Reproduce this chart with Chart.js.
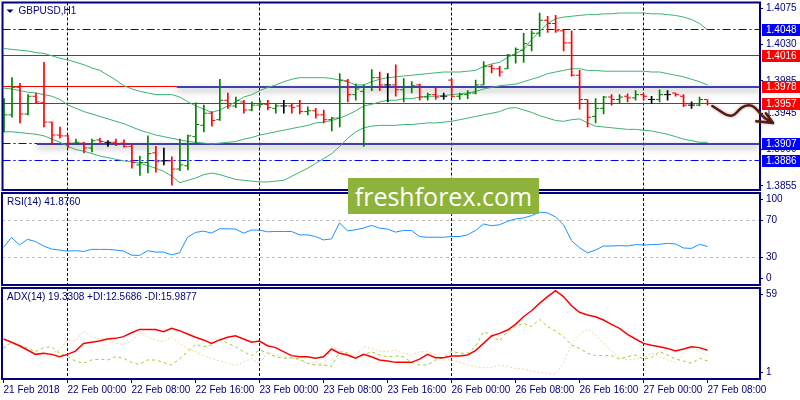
<!DOCTYPE html>
<html>
<head>
<meta charset="utf-8">
<script src="https://cdn.jsdelivr.net/npm/chart.js@4.4.1/dist/chart.umd.min.js"></script>
<style>
html, body { margin: 0; padding: 0; background: #fff; }
#wrap { position: relative; width: 800px; height: 400px; overflow: hidden; }
#wrap canvas { position: absolute; left: 0; top: 0; }
#logo { position: absolute; left: 348px; top: 178px; width: 191px; height: 36px; background: #8db33a; color: #fff;
        font: 25px "Open Sans", sans-serif; line-height: 36px; text-align: center; z-index: 5; }
</style>
</head>
<body>
<div id="wrap">
  <canvas id="main" width="800" height="400"></canvas>
  <canvas id="rsi" width="800" height="400"></canvas>
  <canvas id="adx" width="800" height="400"></canvas>
  <div id="logo">freshforex.com</div>
</div>
<script>
// GBPUSD H1, 21 Feb 16:00 .. 27 Feb 08:00 (89 bars)
const opens = [1.3933,1.3943,1.3977,1.3944,1.3966,1.3958,1.3934,1.3918,1.3917,1.3908,
  1.3908,1.3902,1.3912,1.3909,1.3909,1.3908,1.3904,1.3881,1.3884,1.3896,
  1.3886,1.3886,1.3876,1.3880,1.3916,1.3930,1.3945,1.3937,1.3961,1.3954,
  1.3959,1.3949,1.3955,1.3956,1.3951,1.3954,1.3954,1.3954,1.3947,1.3948,
  1.3943,1.3937,1.3939,1.3985,1.3968,1.3972,1.3977,1.3989,1.3980,1.3980,
  1.3974,1.3977,1.3980,1.3965,1.3968,1.3966,1.3986,1.3966,1.3968,1.3970,
  1.3980,1.4003,1.4000,1.4000,1.4017,1.4023,1.4029,1.4044,1.4060,1.4056,
  1.4047,1.4032,1.3992,1.3962,1.3941,1.3951,1.3965,1.3962,1.3966,1.3964,
  1.3968,1.3962,1.3962,1.3968,1.3970,1.3966,1.3955,1.3955,1.3962];
const highs = [1.3963,1.3989,1.3982,1.3968,1.3970,1.4008,1.3934,1.3928,1.3918,1.3913,
  1.3909,1.3913,1.3914,1.3911,1.3913,1.3912,1.3907,1.3892,1.3917,1.3904,
  1.3902,1.3891,1.3913,1.3918,1.3958,1.3955,1.3947,1.3987,1.3970,1.3965,
  1.3961,1.3959,1.3961,1.3961,1.3956,1.3961,1.3957,1.3961,1.3953,1.3951,
  1.3949,1.3940,1.3994,1.3987,1.3981,1.3980,1.3999,1.3996,1.3994,1.4005,
  1.3988,1.3984,1.3981,1.3970,1.3976,1.3970,1.3987,1.3970,1.3973,1.3986,
  1.4009,1.4005,1.4003,1.4018,1.4026,1.4044,1.4047,1.4069,1.4065,1.4066,
  1.4048,1.4047,1.3998,1.3962,1.3963,1.3966,1.3968,1.3968,1.3969,1.3973,
  1.3969,1.3966,1.3974,1.3973,1.3970,1.3968,1.3959,1.3965,1.3962];
const lows = [1.3922,1.3940,1.3933,1.3943,1.3957,1.3928,1.3906,1.3914,1.3902,1.3907,
  1.3896,1.3897,1.3909,1.3904,1.3905,1.3903,1.3877,1.3868,1.3871,1.3872,
  1.3881,1.3856,1.3874,1.3875,1.3908,1.3922,1.3929,1.3936,1.3951,1.3952,
  1.3945,1.3948,1.3952,1.3949,1.3945,1.3945,1.3945,1.3944,1.3943,1.3939,
  1.3933,1.3923,1.3928,1.3959,1.3961,1.3904,1.3973,1.3973,1.3959,1.3966,
  1.3959,1.3970,1.3961,1.3961,1.3962,1.3962,1.3965,1.3962,1.3963,1.3969,
  1.3980,1.3995,1.3991,1.4000,1.4007,1.4008,1.4022,1.4040,1.4045,1.4045,
  1.4022,1.3991,1.3950,1.3928,1.3933,1.3944,1.3955,1.3957,1.3959,1.3961,
  1.3961,1.3957,1.3959,1.3961,1.3966,1.3953,1.3951,1.3954,1.3955];
const closes = [1.3943,1.3977,1.3944,1.3966,1.3959,1.3934,1.3918,1.3917,1.3908,1.3909,
  1.3902,1.3911,1.3910,1.3909,1.3907,1.3904,1.3884,1.3884,1.3895,1.3885,
  1.3886,1.3876,1.3881,1.3917,1.3931,1.3945,1.3936,1.3961,1.3954,1.3961,
  1.3949,1.3955,1.3956,1.3952,1.3954,1.3954,1.3952,1.3947,1.3948,1.3943,
  1.3937,1.3939,1.3986,1.3968,1.3975,1.3977,1.3989,1.3980,1.3980,1.3974,
  1.3977,1.3979,1.3965,1.3968,1.3965,1.3966,1.3966,1.3968,1.3970,1.3980,
  1.4003,1.4000,1.3996,1.4017,1.4024,1.4031,1.4044,1.4060,1.4056,1.4047,
  1.4032,1.3992,1.3962,1.3940,1.3951,1.3965,1.3962,1.3965,1.3964,1.3968,
  1.3966,1.3962,1.3968,1.3968,1.3968,1.3955,1.3955,1.3962,1.3957];

// Bollinger Bands (20)
const bbUpper = [1.4025,1.4024,1.4023,1.4022,1.4020,1.4019,1.4016,1.4013,1.4011,1.4008,
  1.4005,1.4001,1.3998,1.3992,1.3986,1.3979,1.3975,1.3972,1.3970,1.3968,
  1.3968,1.3968,1.3965,1.3959,1.3954,1.3950,1.3946,1.3949,1.3954,1.3959,
  1.3965,1.3968,1.3973,1.3977,1.3980,1.3984,1.3987,1.3989,1.3989,1.3989,
  1.3989,1.3988,1.3986,1.3984,1.3980,1.3980,1.3984,1.3987,1.3989,1.3990,
  1.3991,1.3992,1.3993,1.3994,1.3995,1.3996,1.3996,1.3996,1.3997,1.3998,
  1.4003,1.4006,1.4008,1.4014,1.4019,1.4024,1.4036,1.4046,1.4056,1.4062,
  1.4064,1.4065,1.4066,1.4067,1.4067,1.4068,1.4068,1.4069,1.4069,1.4069,
  1.4069,1.4068,1.4068,1.4067,1.4066,1.4064,1.4061,1.4056,1.4048];
const bbMiddle = [1.3976,1.3975,1.3973,1.3971,1.3970,1.3968,1.3966,1.3962,1.3955,1.3951,
  1.3947,1.3944,1.3941,1.3938,1.3935,1.3932,1.3928,1.3924,1.3921,1.3918,
  1.3916,1.3914,1.3912,1.3910,1.3909,1.3908,1.3907,1.3908,1.3909,1.3910,
  1.3913,1.3915,1.3918,1.3920,1.3922,1.3924,1.3926,1.3928,1.3930,1.3933,
  1.3934,1.3936,1.3939,1.3943,1.3948,1.3954,1.3956,1.3959,1.3961,1.3961,
  1.3963,1.3963,1.3965,1.3966,1.3966,1.3967,1.3968,1.3969,1.3970,1.3972,
  1.3975,1.3977,1.3979,1.3980,1.3981,1.3984,1.3987,1.3990,1.3994,1.3996,
  1.3998,1.4000,1.4000,1.3998,1.3998,1.3997,1.3997,1.3997,1.3997,1.3997,
  1.3997,1.3996,1.3996,1.3994,1.3992,1.3990,1.3987,1.3984,1.3980];
const bbLower = [1.3922,1.3922,1.3921,1.3920,1.3919,1.3917,1.3913,1.3909,1.3904,1.3900,
  1.3898,1.3895,1.3892,1.3890,1.3888,1.3886,1.3885,1.3883,1.3880,1.3877,
  1.3873,1.3867,1.3859,1.3862,1.3865,1.3869,1.3871,1.3869,1.3866,1.3863,
  1.3862,1.3861,1.3860,1.3860,1.3861,1.3862,1.3867,1.3872,1.3877,1.3883,
  1.3889,1.3895,1.3904,1.3914,1.3922,1.3927,1.3929,1.3930,1.3930,1.3930,
  1.3931,1.3931,1.3932,1.3933,1.3933,1.3934,1.3935,1.3937,1.3939,1.3941,
  1.3943,1.3945,1.3947,1.3951,1.3952,1.3949,1.3946,1.3942,1.3939,1.3936,
  1.3935,1.3937,1.3938,1.3933,1.3929,1.3928,1.3927,1.3926,1.3925,1.3925,
  1.3924,1.3923,1.3921,1.3919,1.3916,1.3913,1.3911,1.3909,1.3909];

const rsi14 = [40.9,51.6,43.5,49.7,47.2,42.4,39.1,38.0,36.9,37.3,
  36.5,38.7,38.7,38.7,38.0,36.9,32.5,32.1,37.3,35.8,
  35.8,32.8,35.0,51.9,57.1,58.6,56.4,61.1,61.1,60.8,
  56.4,59.7,59.7,57.8,58.2,58.2,58.2,54.5,54.5,52.7,
  49.0,50.1,67.4,58.9,60.0,61.9,64.8,61.9,60.8,57.5,
  59.3,59.3,52.7,51.9,51.9,51.9,52.7,52.7,54.5,59.3,
  66.3,64.4,65.5,69.2,71.8,72.9,75.4,79.1,78.4,74.0,
  65.5,48.3,40.6,35.0,38.0,42.4,42.4,42.8,42.4,43.9,
  43.5,43.9,44.2,45.3,44.6,40.2,39.8,44.2,41.9];

const adx14 = [26.5,24.4,22.2,19.5,16.7,17.4,16.7,15.2,16.7,18.8,
  23.7,24.4,25.2,26.5,26.9,28.0,30.5,32.6,32.6,32.6,
  31.2,33.3,31.8,29.7,27.6,25.9,23.7,25.9,27.6,28.6,
  26.5,24.4,25.2,22.2,21.0,18.4,15.9,15.2,15.2,14.2,
  15.2,20.1,17.4,16.3,14.2,16.7,15.2,13.1,12.5,11.6,
  11.6,11.6,13.7,16.7,14.6,14.6,15.7,15.7,16.3,19.1,
  23.7,28.4,30.1,32.2,35.8,40.7,44.5,49.2,53.5,57.3,
  53.5,47.7,43.5,41.8,40.7,38.6,35.8,33.3,29.5,26.5,
  23.7,22.5,21.6,20.5,18.8,20.1,21.6,21.0,19.3];
const plusDI = [20.5,24.4,22.7,20.5,18.4,21.0,21.6,17.4,15.2,12.5,
  11.0,13.1,13.7,13.1,15.2,14.2,11.6,10.3,13.1,13.1,
  11.6,9.9,13.7,18.4,23.1,21.6,22.7,26.5,23.7,21.6,
  18.4,15.9,19.5,17.4,15.2,14.2,14.6,13.7,11.0,9.9,
  9.9,8.9,18.4,17.4,14.2,16.3,18.4,16.3,15.2,15.7,
  15.2,11.6,9.9,9.9,13.1,14.6,18.8,17.4,17.4,21.6,
  31.2,29.0,25.2,31.2,34.4,36.5,34.4,39.0,34.4,31.6,
  28.0,22.7,20.5,17.4,15.9,15.9,15.9,13.7,15.2,16.3,
  13.7,14.6,18.4,16.3,13.7,12.5,11.0,14.2,12.6];
const minusDI = [21.6,24.4,21.6,19.5,17.4,15.2,17.4,19.5,25.9,25.2,
  31.8,28.0,26.5,26.9,23.7,23.1,25.2,31.2,28.0,25.9,
  24.8,28.0,23.7,20.5,18.4,15.9,14.2,12.5,11.0,9.5,
  11.6,14.2,10.3,18.4,16.3,15.2,14.2,13.1,11.0,12.1,
  9.9,21.6,19.5,17.4,15.2,21.6,20.5,18.8,18.4,19.5,
  17.4,16.3,18.4,18.4,16.3,13.1,13.1,11.6,9.9,8.9,
  8.2,8.2,9.9,8.9,7.8,7.4,6.1,5.3,4.6,4.0,
  11.0,23.7,29.5,32.7,29.5,23.7,18.8,14.6,13.1,13.7,
  14.6,17.4,15.2,13.1,11.6,17.4,21.0,18.4,16.0];

// axes
const xTickIdx = [0, 8, 16, 24, 32, 40, 48, 56, 64, 72, 80, 88];
const xTickText = ['21 Feb 2018', '22 Feb 00:00', '22 Feb 08:00', '22 Feb 16:00', '23 Feb 00:00', '23 Feb 08:00',
  '23 Feb 16:00', '26 Feb 00:00', '26 Feb 08:00', '26 Feb 16:00', '27 Feb 00:00', '27 Feb 08:00'];
const dayStarts = [8, 32, 56, 80];
const priceTicks = [1.4075, 1.4030, 1.3985, 1.3945, 1.3900, 1.3855];
const rsiTickPos = [93, 70, 30, 7];
const rsiTickText = ['100', '70', '30', '0'];
const rsiLevels = [70, 30];
const adxTickPos = [55, 5.3];
const adxTickText = ['59', '1'];

// objects drawn on the price chart
const blueLevels = [1.4048, 1.3907, 1.3886];
const redLevels = [1.4016, 1.3978, 1.3957];
const trendLevels = [1.3978, 1.3907];
const trendFrom = [21.6, 4.1];
const tagPrices = [1.4048, 1.4016, 1.3978, 1.3957, 1.3907, 1.3886];
const tagColors = ['#0000ff', '#ff0000', '#ff0000', '#ff0000', '#0000ff', '#0000ff'];
const arrowIdx = [88.6, 89.4, 90.3, 91.2, 91.9, 92.7, 93.6, 94.3, 95.2, 96.2];
const arrowPrice = [1.3954, 1.3949, 1.3943, 1.3941, 1.3949, 1.3955, 1.3955, 1.3948, 1.3938, 1.3933];
const arrowHeadIdx = [94.1, 95.3];
const arrowHeadPrice = [1.3935, 1.3945];

const NAVY = '#000080';
const FONT = { family: '"Liberation Sans", Arial, sans-serif', size: 10 };
const FONT_CSS = '10px "Liberation Sans", Arial, sans-serif';
const X_MIN = -0.1875, X_MAX = 94.5625;

const barColor = i => closes[i] > opens[i] ? '#008000' : (closes[i] < opens[i] ? '#ff0000' : '#000000');
const pts = arr => arr.map((v, i) => ({ x: i, y: v }));

function xAxis(show) {
    return {
        type: 'linear', min: X_MIN, max: X_MAX, display: show, offset: false, bounds: 'data',
        afterFit: s => { if (show) s.height = 21; s.paddingLeft = 0; s.paddingRight = 0; },
        afterBuildTicks: s => { s.ticks = xTickIdx.map(v => ({ value: v })); },
        ticks: { callback: v => xTickText[xTickIdx.indexOf(v)], align: 'start', color: NAVY, font: FONT,
                 maxRotation: 0, autoSkip: false, padding: 1 },
        grid: { drawOnChartArea: false, tickLength: 4, tickColor: NAVY },
        border: { display: false }
    };
}

function yAxis(min, max, tickPos, tickText) {
    return {
        type: 'linear', position: 'right', min: min, max: max, bounds: 'data',
        afterFit: s => { s.width = 40; s.paddingTop = 0; s.paddingBottom = 0; },
        afterBuildTicks: s => { s.ticks = tickPos.map(v => ({ value: v })); },
        ticks: { callback: v => tickText ? tickText[tickPos.indexOf(v)] : v.toFixed(4),
                 color: NAVY, font: FONT, padding: 3, autoSkip: false },
        grid: { drawOnChartArea: false, tickLength: 3, tickColor: NAVY },
        border: { display: false }
    };
}

// dashed day separators + panel frame, used by all three panels
const frame = {
    id: 'frame',
    beforeDatasetsDraw(chart) {
        const { ctx, chartArea: a, scales: { x } } = chart;
        ctx.save();
        ctx.strokeStyle = NAVY;
        ctx.lineWidth = 1;
        ctx.setLineDash([3, 2]);
        dayStarts.forEach(d => {
            const px = Math.round(x.getPixelForValue(d) - 0.5) + 0.5;
            ctx.beginPath(); ctx.moveTo(px, a.top); ctx.lineTo(px, a.bottom); ctx.stroke();
        });
        ctx.restore();
    },
    afterDatasetsDraw(chart) {
        const { ctx, chartArea: a } = chart;
        ctx.save();
        ctx.strokeStyle = NAVY;
        ctx.lineWidth = 2;
        ctx.strokeRect(a.left, a.top, a.right - a.left, a.bottom - a.top);
        ctx.restore();
    }
};

const caption = {
    id: 'caption',
    afterDraw(chart, args, opts) {
        const { ctx, chartArea: a } = chart;
        ctx.save();
        ctx.fillStyle = NAVY;
        ctx.font = FONT_CSS;
        ctx.textBaseline = 'middle';
        let tx = a.left + 5;
        if (opts.marker) {
            ctx.beginPath();
            ctx.moveTo(a.left + 4, a.top + 7);
            ctx.lineTo(a.left + 11, a.top + 7);
            ctx.lineTo(a.left + 7.5, a.top + 10.5);
            ctx.closePath();
            ctx.fill();
            tx = a.left + 16;
        }
        ctx.fillText(opts.text, tx, a.top + 9);
        ctx.restore();
    }
};

// horizontal levels, trend lines, price tags and hand drawn arrow
const objects = {
    id: 'objects',
    beforeDatasetsDraw(chart) {
        const { ctx, chartArea: a, scales: { x, y } } = chart;
        const hline = (x0, x1, v, crisp) => {
            const py = crisp ? Math.round(y.getPixelForValue(v) - 0.5) + 0.5 : Math.round(y.getPixelForValue(v));
            ctx.beginPath(); ctx.moveTo(x0, py); ctx.lineTo(x1, py); ctx.stroke();
        };
        ctx.save();
        ctx.lineWidth = 1;
        ctx.strokeStyle = '#0000ff';
        ctx.setLineDash([8, 3, 2, 3]);
        blueLevels.forEach(v => hline(a.left, a.right, v, true));
        ctx.setLineDash([]);
        ctx.strokeStyle = '#ff0000';
        redLevels.forEach(v => hline(a.left, a.right, v, true));
        ctx.lineWidth = 2;
        ctx.strokeStyle = '#4040b0';
        ctx.shadowColor = 'rgba(0,0,0,0.45)';
        ctx.shadowBlur = 6;
        ctx.shadowOffsetY = 3;
        trendLevels.forEach((v, k) => hline(x.getPixelForValue(trendFrom[k]), a.right, v, false));
        ctx.restore();
    },
    afterDraw(chart) {
        const { ctx, chartArea: a, scales: { x, y } } = chart;
        ctx.save();
        ctx.font = FONT_CSS;
        ctx.textBaseline = 'middle';
        tagPrices.forEach((v, k) => {
            const py = Math.round(y.getPixelForValue(v));
            ctx.fillStyle = tagColors[k];
            ctx.fillRect(a.right + 2, py - 6, 38, 12);
            ctx.fillStyle = '#ffffff';
            ctx.fillText(v.toFixed(4), a.right + 6, py + 0.5);
        });

        const p = arrowIdx.map((v, k) => [x.getPixelForValue(v), y.getPixelForValue(arrowPrice[k])]);
        ctx.strokeStyle = '#5a1a10';
        ctx.lineWidth = 2.5;
        ctx.lineCap = 'round';
        ctx.lineJoin = 'round';
        ctx.shadowColor = 'rgba(90,30,20,0.45)';
        ctx.shadowBlur = 3;
        ctx.beginPath();
        ctx.moveTo(p[0][0], p[0][1]);
        for (let k = 1; k < p.length - 1; k++) {
            ctx.quadraticCurveTo(p[k][0], p[k][1], (p[k][0] + p[k + 1][0]) / 2, (p[k][1] + p[k + 1][1]) / 2);
        }
        const tip = p[p.length - 1];
        ctx.lineTo(tip[0], tip[1]);
        arrowHeadIdx.forEach((v, k) => {
            ctx.moveTo(x.getPixelForValue(v), y.getPixelForValue(arrowHeadPrice[k]));
            ctx.lineTo(tip[0], tip[1]);
        });
        ctx.stroke();
        ctx.restore();
    }
};

const rsiLines = {
    id: 'rsiLines',
    beforeDatasetsDraw(chart) {
        const { ctx, chartArea: a, scales: { y } } = chart;
        ctx.save();
        ctx.strokeStyle = '#c0c0c0';
        ctx.lineWidth = 1;
        ctx.setLineDash([3, 3]);
        rsiLevels.forEach(v => {
            const py = Math.round(y.getPixelForValue(v) - 0.5) + 0.5;
            ctx.beginPath(); ctx.moveTo(a.left, py); ctx.lineTo(a.right, py); ctx.stroke();
        });
        ctx.restore();
    }
};

function baseOptions(top, bottom, yScale, xShow, captionText, marker) {
    return {
        responsive: false,
        animation: false,
        events: [],
        layout: { padding: { left: 2, right: 0, top: top, bottom: bottom } },
        scales: { x: xAxis(xShow), y: yScale },
        plugins: {
            legend: { display: false },
            tooltip: { enabled: false },
            caption: { text: captionText, marker: marker }
        }
    };
}

const tickSet = (vals, dx) => ({
    type: 'line',
    data: vals.map((v, i) => ({ x: i + dx, y: v })),
    showLine: false,
    pointStyle: 'line',
    pointRadius: 1.5,
    pointHoverRadius: 1.5,
    pointBorderWidth: 1,
    pointBorderColor: c => barColor(c.dataIndex),
    order: 0
});

const bandLine = vals => ({
    type: 'line', data: pts(vals), borderColor: '#3cb371', borderWidth: 1,
    pointRadius: 0, tension: 0, order: 2
});

new Chart(document.getElementById('main'), {
    type: 'line',
    data: {
        datasets: [
            tickSet(opens, -0.25),
            tickSet(closes, 0.25),
            {
                type: 'bar',
                data: highs.map((h, i) => ({ x: i, y: [lows[i], h] })),
                backgroundColor: c => barColor(c.dataIndex),
                borderWidth: 0,
                barThickness: 1,
                order: 1
            },
            bandLine(bbUpper),
            bandLine(bbMiddle),
            bandLine(bbLower)
        ]
    },
    options: baseOptions(2, 210, yAxis(1.3850, 1.4082, priceTicks, null), false, 'GBPUSD,H1', true),
    plugins: [frame, objects, caption]
});

new Chart(document.getElementById('rsi'), {
    type: 'line',
    data: {
        datasets: [{
            data: pts(rsi14), borderColor: '#1e90ff', borderWidth: 1, pointRadius: 0, tension: 0
        }]
    },
    options: baseOptions(193, 115, yAxis(0, 100, rsiTickPos, rsiTickText), false, 'RSI(14) 41.8760', false),
    plugins: [frame, rsiLines, caption]
});

new Chart(document.getElementById('adx'), {
    type: 'line',
    data: {
        datasets: [
            { data: pts(adx14), borderColor: '#ff0000', borderWidth: 1.5, pointRadius: 0, tension: 0 },
            { data: pts(plusDI), borderColor: '#9acd32', borderWidth: 1, borderDash: [3, 3], pointRadius: 0, tension: 0 },
            { data: pts(minusDI), borderColor: '#f3d3a3', borderWidth: 1, borderDash: [2, 2], pointRadius: 0, tension: 0 }
        ]
    },
    options: baseOptions(288, 0, yAxis(1, 59, adxTickPos, adxTickText), true,
        'ADX(14) 19.3308 +DI:12.5686 -DI:15.9877', false),
    plugins: [frame, caption]
});
</script>
</body>
</html>
